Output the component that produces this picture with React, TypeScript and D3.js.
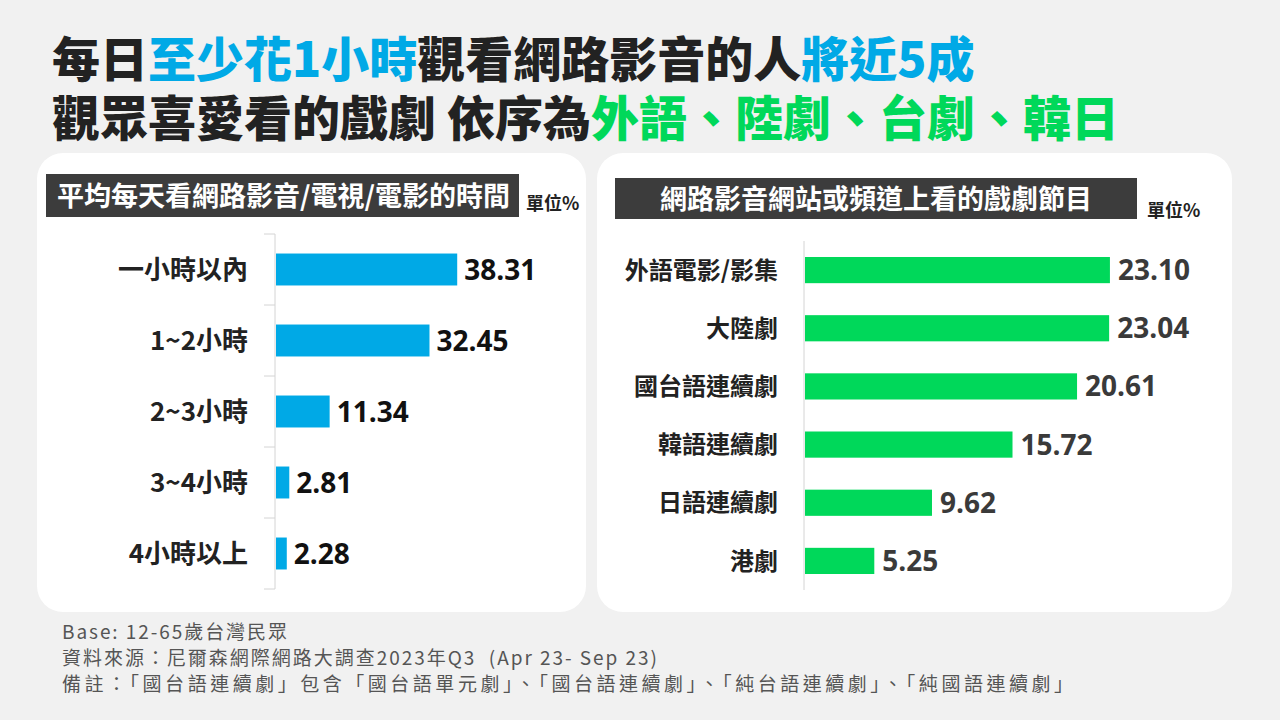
import React from 'react';
import * as d3 from 'd3';

const timeCats = ['一小時以內', '1~2小時', '2~3小時', '3~4小時', '4小時以上'];
const timeVals = [38.31, 32.45, 11.34, 2.81, 2.28];

const dramaCats = ['外語電影/影集', '大陸劇', '國台語連續劇', '韓語連續劇', '日語連續劇', '港劇'];
const dramaVals = [23.1, 23.04, 20.61, 15.72, 9.62, 5.25];

const footnotes = [
  'Base: 12-65歲台灣民眾',
  '資料來源：尼爾森網際網路大調查2023年Q3  (Apr 23- Sep 23)',
  '備註：「國台語連續劇」包含「國台語單元劇」、「國台語連續劇」、「純台語連續劇」、「純國語連續劇」',
];
// rendered widths of the footnote lines (layout only)
const footnoteWidths = [225, 595, 1011];

const BLUE = '#00a9e6';
const GREEN = '#00d85a';
const DARK = '#222222';
const CJK = '"Noto Sans CJK TC", "Noto Sans", sans-serif';
const NUM = '"Open Sans", "Noto Sans", sans-serif';

const LeftChart = () => {
  const axisX = 275;
  const y = d3.scaleBand<string>().domain(timeCats).range([234, 589]).paddingInner(0.55).paddingOuter(0.275);
  const x = d3.scaleLinear().domain([0, 40]).range([0, 189.2]);
  const edges = timeCats.map((c) => (y(c) as number) - (y.step() * y.paddingInner()) / 2);
  edges.push(589);
  return (
    <g>
      <line x1={axisX} x2={axisX} y1={234} y2={589} stroke="#d4d4d4" strokeWidth={1} />
      {edges.map((e, i) => (
        <line key={i} x1={axisX - 11} x2={axisX} y1={e} y2={e} stroke="#d4d4d4" strokeWidth={1} />
      ))}
      {timeCats.map((c, i) => {
        const cy = (y(c) as number) + y.bandwidth() / 2;
        return (
          <g key={c}>
            <rect x={axisX + 1} y={y(c)} width={x(timeVals[i])} height={y.bandwidth()} fill={BLUE} />
            <text x={axisX - 27} y={cy} dy="0.36em" textAnchor="end" fontFamily={CJK} fontWeight={700} fontSize={26} fill={DARK}>
              {c}
            </text>
            <text x={axisX + 1 + x(timeVals[i]) + 7} y={cy} dy="0.36em" fontFamily={NUM} fontWeight={700} fontSize={28} fill="#111">
              {timeVals[i].toFixed(2)}
            </text>
          </g>
        );
      })}
    </g>
  );
};

const RightChart = () => {
  const axisX = 804;
  const y = d3.scaleBand<string>().domain(dramaCats).range([241, 590]).paddingInner(0.55).paddingOuter(0.275);
  const x = d3.scaleLinear().domain([0, 25]).range([0, 330]);
  return (
    <g>
      <line x1={axisX} x2={axisX} y1={241} y2={590} stroke="#d4d4d4" strokeWidth={1} />
      {dramaCats.map((c, i) => {
        const cy = (y(c) as number) + y.bandwidth() / 2;
        return (
          <g key={c}>
            <rect x={axisX + 1} y={y(c)} width={x(dramaVals[i])} height={y.bandwidth()} fill={GREEN} />
            <text x={axisX - 26} y={cy} dy="0.36em" textAnchor="end" fontFamily={CJK} fontWeight={700} fontSize={24} fill={DARK}>
              {c}
            </text>
            <text x={axisX + 1 + x(dramaVals[i]) + 8} y={cy} dy="0.36em" fontFamily={NUM} fontWeight={700} fontSize={28} fill="#3a3a3a">
              {dramaVals[i].toFixed(2)}
            </text>
          </g>
        );
      })}
    </g>
  );
};

export default function App() {
  return (
    <div style={{ position: 'fixed', left: 0, top: 0 }}>
      <svg width={1280} height={720} style={{ display: 'block' }}>
        <rect width={1280} height={720} fill="#f1f1f1" />
        <text x={52} y={77} fontFamily={CJK} fontWeight={900} fontSize={48} fill={DARK}>
          每日<tspan fill={BLUE}>至少花1小時</tspan>觀看網路影音的人<tspan fill={BLUE}>將近5成</tspan>
        </text>
        <text x={52} y={136} fontFamily={CJK} fontWeight={900} fontSize={48} fill={DARK}>
          觀眾喜愛看的戲劇 依序為<tspan fill={GREEN}>外語、陸劇、台劇、韓日</tspan>
        </text>

        <rect x={37} y={153} width={549} height={459} rx={26} fill="#fff" />
        <rect x={597} y={153} width={635} height={459} rx={26} fill="#fff" />

        <rect x={46} y={174} width={473} height={43} fill="#3c3c3c" />
        <text x={57} y={196} dy="0.36em" fontFamily={CJK} fontWeight={700} fontSize={27} fill="#fff">
          平均每天看網路影音/電視/電影的時間
        </text>
        <text x={526} y={210} fontFamily={CJK} fontWeight={700} fontSize={18} fill={DARK}>
          單位%
        </text>

        <rect x={615} y={178} width={522} height={41} fill="#3c3c3c" />
        <text x={876} y={199} dy="0.36em" textAnchor="middle" fontFamily={CJK} fontWeight={700} fontSize={27} fill="#fff">
          網路影音網站或頻道上看的戲劇節目
        </text>
        <text x={1147} y={217} fontFamily={CJK} fontWeight={700} fontSize={18} fill={DARK}>
          單位%
        </text>

        <LeftChart />
        <RightChart />

        {footnotes.map((f, i) => (
          <text
            key={i}
            x={62}
            y={639 + i * 26}
            fontFamily={CJK}
            fontSize={19}
            fill="#555"
            xmlSpace="preserve"
            textLength={footnoteWidths[i]}
            lengthAdjust="spacing"
          >
            {f}
          </text>
        ))}
      </svg>
    </div>
  );
}
